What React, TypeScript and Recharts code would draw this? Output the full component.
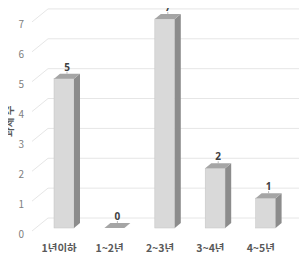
import { Bar, BarChart, CartesianGrid, LabelList, XAxis, YAxis } from "recharts";

const categories = ["1년이하", "1~2년", "2~3년", "3~4년", "4~5년"];
const counts = [5, 0, 7, 2, 1];
const yTicks = [0, 1, 2, 3, 4, 5, 6, 7];

const data = categories.map((name, i) => ({ name, count: counts[i] }));

const DEPTH_X = 6;
const DEPTH_Y = 5;

// excel-style 3D column: front face, dark side, mid-gray top
function Bar3D(props: any) {
  const { x, y, width, height } = props;
  const w = width;
  const h = Math.max(height, 0);
  return (
    <g>
      <rect x={x} y={y} width={w} height={h} fill="#d9d9d9" stroke="#c4c4c4" strokeWidth={0.5} />
      <polygon
        points={`${x + w},${y} ${x + w + DEPTH_X},${y - DEPTH_Y} ${x + w + DEPTH_X},${y + h - DEPTH_Y} ${x + w},${y + h}`}
        fill="#8c8c8c"
      />
      <polygon
        points={`${x},${y} ${x + DEPTH_X},${y - DEPTH_Y} ${x + w + DEPTH_X},${y - DEPTH_Y} ${x + w},${y}`}
        fill="#a5a5a5"
      />
    </g>
  );
}

function gridLine(p: any) {
  const { x1, x2, y1 } = p;
  return (
    <g key={p.key}>
      <line x1={x1 - 7} y1={y1 + 3} x2={x1 + 9} y2={y1 - 10} stroke="#e6e6e6" strokeWidth={1} />
      <line x1={x1 + 9} y1={y1 - 10} x2={x2 + 14} y2={y1 - 10} stroke="#e6e6e6" strokeWidth={1} />
    </g>
  );
}

function ValueLabel(props: any) {
  const { x, y, width, value } = props;
  const cx = Number(x) + Number(width) / 2 + 3;
  const top = Number(y);
  return (
    <g>
      <line x1={cx} y1={top - 7} x2={cx} y2={top - 5} stroke="#a6a6a6" strokeWidth={0.8} />
      <text
        x={cx}
        y={top - 8}
        textAnchor="middle"
        fill="#404040"
        fontSize={10}
        fontWeight="bold"
        fontFamily="'Noto Sans', sans-serif"
      >
        {String(value)}
      </text>
    </g>
  );
}

export default function App() {
  const tickStyle = { fill: "#808080", fontSize: 10 };
  return (
    <div style={{ margin: -8, fontFamily: "'Noto Sans CJK KR', 'Noto Sans', sans-serif" }}>
      <BarChart
        width={307}
        height={260}
        data={data}
        margin={{ top: 4, right: 16, left: 9, bottom: 6 }}
        barSize={20}
        style={{ overflow: "visible" }}
      >
        <CartesianGrid vertical={false} horizontal={gridLine} />
        <YAxis
          domain={[0, 7.5]}
          ticks={yTicks}
          width={30}
          axisLine={false}
          tickLine={false}
          tick={{ ...tickStyle, dx: -7, dy: 6 }}
          interval={0}
          label={{
            value: "과제 수",
            angle: -90,
            position: "insideLeft",
            dx: -5,
            dy: 21,
            fill: "#595959",
            fontSize: 10.5,
            fontWeight: "bold",
          }}
        />
        <XAxis
          dataKey="name"
          axisLine={false}
          tickLine={false}
          interval={0}
          height={26}
          tick={{ fill: "#595959", fontSize: 10.5, fontWeight: "bold", dx: -5, dy: 9 }}
        />
        <Bar dataKey="count" shape={Bar3D} isAnimationActive={false}>
          <LabelList dataKey="count" content={ValueLabel} />
        </Bar>
      </BarChart>
    </div>
  );
}
